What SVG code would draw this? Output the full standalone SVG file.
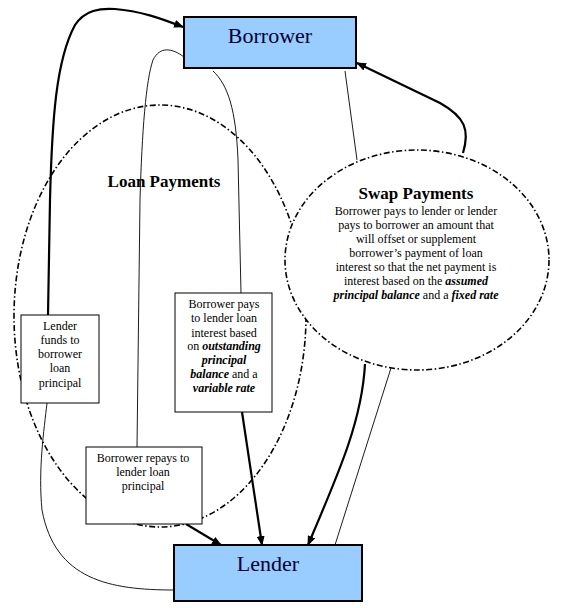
<svg xmlns="http://www.w3.org/2000/svg" width="561" height="608" viewBox="0 0 561 608">
<style>
.party{fill:#99CCFF;stroke:#000;stroke-width:2}
.box{fill:#fff;stroke:#000;stroke-width:1}
.ell{fill:none;stroke:#000;stroke-width:1.6;stroke-dasharray:6 2.5 1.5 2.5}
.thin{fill:none;stroke:#000;stroke-width:0.9}
.thick{fill:none;stroke:#000;stroke-width:2.2}
text{font-family:"Liberation Serif","Times New Roman",serif;fill:#000;text-anchor:middle}
.big{font-size:22px;fill:#000033}
.sm{font-size:12px}
.hd{font-size:17px;font-weight:bold}
.bi{font-weight:bold;font-style:italic}
</style>
<defs>
<marker id="ah" markerWidth="10" markerHeight="8" refX="9" refY="4" orient="auto" markerUnits="userSpaceOnUse">
<path d="M0,0 L10,4 L0,8 Z" fill="#000"/>
</marker>
</defs>
<rect width="561" height="608" fill="#fff"/>
<g id="loan-payments">
<ellipse class="ell" cx="160" cy="316" rx="146" ry="211"/>
<text class="hd" x="164" y="187">Loan Payments</text>
</g>
<g id="swap-payments">
<ellipse class="ell" cx="417" cy="260" rx="132" ry="110" style="fill:#fff"/>
<text class="hd" x="416" y="199">Swap Payments</text>
<text class="sm" x="416" y="215">Borrower pays to lender or lender</text>
<text class="sm" x="416" y="229">pays to borrower an amount that</text>
<text class="sm" x="416" y="243">will offset or supplement</text>
<text class="sm" x="416" y="257">borrower’s payment of loan</text>
<text class="sm" x="416" y="271">interest so that the net payment is</text>
<text class="sm" x="416" y="285">interest based on the <tspan class="bi">assumed</tspan></text>
<text class="sm" x="416" y="299"><tspan class="bi">principal balance</tspan> and a <tspan class="bi">fixed rate</tspan></text>
</g>
<g id="connectors">
<path class="thin" d="M174,590 C110,590 55,580 42,510 C38,470 44,430 47,403"/>
<path class="thick" marker-end="url(#ah)" d="M48,315 L50,200 C52,120 56,60 75,25 C85,10 100,8 115,9 C140,11 160,18 183,27"/>
<path class="thin" d="M184,57 C172,48 160,46 153,60 C146,80 142,130 140,200 L137,447"/>
<path class="thick" marker-end="url(#ah)" d="M186,524 L221,545"/>
<path class="thin" d="M213,71 C228,85 236,110 238,160 L241,293"/>
<path class="thick" marker-end="url(#ah)" d="M242,412 L262,545"/>
<path class="thick" marker-end="url(#ah)" d="M463,153 C470,130 465,117 440,103 L357,63"/>
<path class="thin" d="M345,71 L357,160"/>
<path class="thick" marker-end="url(#ah)" d="M365,364 C362,420 340,470 308,545"/>
<path class="thin" d="M391,368 L335,545"/>
</g>
<g id="borrower">
<rect class="party" x="184" y="17" width="172" height="51"/>
<text class="big" x="270" y="43">Borrower</text>
</g>
<g id="lender">
<rect class="party" x="174" y="545" width="188" height="56"/>
<text class="big" x="268" y="571">Lender</text>
</g>
<g id="lender-funds">
<rect class="box" x="21" y="315" width="78" height="88"/>
<text class="sm" x="60" y="330">Lender</text>
<text class="sm" x="60" y="344">funds to</text>
<text class="sm" x="60" y="358">borrower</text>
<text class="sm" x="60" y="372">loan</text>
<text class="sm" x="60" y="387">principal</text>
</g>
<g id="borrower-pays-interest">
<rect class="box" x="175" y="293" width="97" height="119"/>
<text class="sm" x="224" y="308">Borrower pays</text>
<text class="sm" x="224" y="322">to lender loan</text>
<text class="sm" x="224" y="337">interest based</text>
<text class="sm" x="224" y="350">on <tspan class="bi">outstanding</tspan></text>
<text class="sm bi" x="224" y="364">principal</text>
<text class="sm" x="224" y="378"><tspan class="bi">balance</tspan> and a</text>
<text class="sm bi" x="224" y="392">variable rate</text>
</g>
<g id="borrower-repays">
<rect class="box" x="86" y="447" width="116" height="77"/>
<text class="sm" x="143" y="462">Borrower repays to</text>
<text class="sm" x="143" y="476">lender loan</text>
<text class="sm" x="143" y="490">principal</text>
</g>
</svg>
